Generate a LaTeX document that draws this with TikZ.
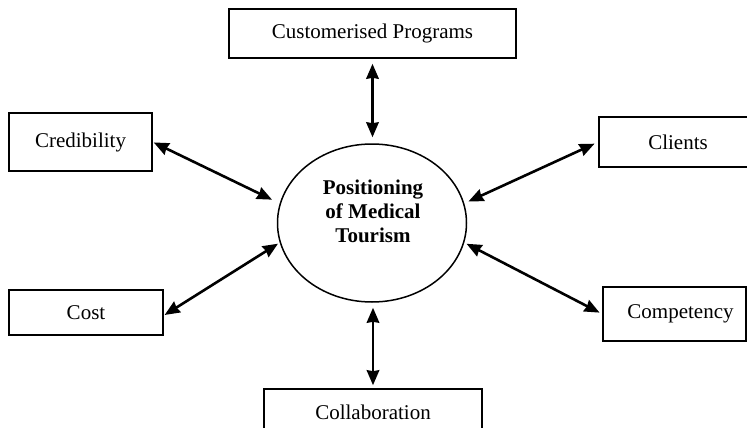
\documentclass[tikz,border=0pt]{standalone}
\usepackage{fontspec}
\setmainfont{Liberation Serif}
\usetikzlibrary{arrows.meta,shapes.geometric}
\begin{document}
\begin{tikzpicture}[x=1pt,y=-1pt,
  box/.style={draw, line width=1.6pt, rectangle, inner sep=0pt, font=\fontsize{21pt}{24pt}\selectfont},
  tipst/.tip={Stealth[length=15pt,width=12.5pt,inset=1pt]},
  arr/.style={line width=2.6pt, tipst-tipst}]
\useasboundingbox (0,0) rectangle (747,428);
\clip (0,0) rectangle (747,428);
\node[box, minimum width=287pt, minimum height=49pt] (cp) at (372.5,33.5) {Customerised Programs};
\node[box, minimum width=143pt, minimum height=58pt] (cred) at (80.5,142) {Credibility};
\node[box, minimum width=154pt, minimum height=45pt] (cost) at (86,312.5) {Cost};
\node[box, minimum width=158pt, minimum height=50pt] (clients) at (678,142) {Clients};
\node[box, minimum width=143pt, minimum height=54pt] (comp) at (674.5,314) {\hspace*{12pt}Competency};
\node[box, minimum width=218pt, minimum height=46pt] (collab) at (373,412) {Collaboration};
\node[draw, ellipse, line width=1.5pt, minimum width=189pt, minimum height=158pt, inner sep=0pt] (ell) at (372,223) {};
\node[font=\bfseries\fontsize{21pt}{24pt}\selectfont, align=center, inner sep=0pt] (title) at (373,211) {Positioning\\of Medical\\Tourism};
\draw[arr, shorten <=1pt, shorten >=8.5pt] (cred.east) -- (ell.168);
\draw[arr, shorten <=1pt, shorten >=2pt] ([yshift=-3pt]cost.east) -- (ell.192);
\draw[arr, shorten <=4pt, shorten >=4.5pt] (clients.west) -- (ell.12);
\draw[arr, shorten <=3pt, shorten >=2.5pt] (comp.west) -- (ell.-12);
\draw[arr, shorten <=5pt, shorten >=6pt] (cp.south) -- (cp.south |- ell.north);
\draw[arr, shorten <=5pt, shorten >=3pt] (ell.south -| collab.north) -- (collab.north);
\end{tikzpicture}
\end{document}
